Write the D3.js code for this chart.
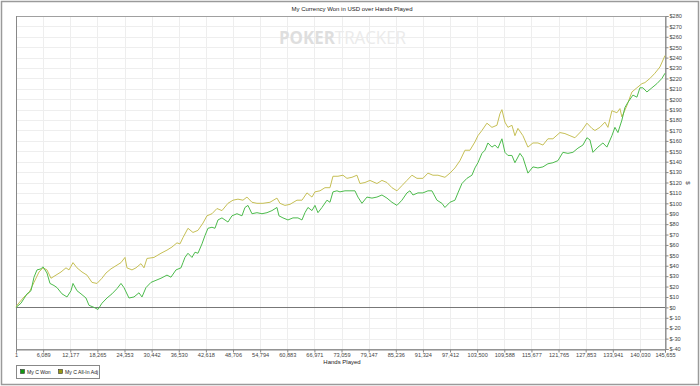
<!DOCTYPE html>
<html>
<head>
<meta charset="utf-8">
<script src="https://cdn.jsdelivr.net/npm/d3@7"></script>
<style>
  body { margin: 0; background: #fff; }
  svg { display: block; font-family: "Liberation Sans", Arial, sans-serif; }
</style>
</head>
<body>
<svg width="700" height="386"></svg>
<script>
// data (hands played, USD)
var wonHands = [1, 1122, 2468, 3366, 4039, 4712, 5610, 6059, 6956, 7630, 8527, 9200, 10322, 11444, 12342, 12791, 13688, 14586, 15708, 16381, 17503, 18401, 19298, 20420, 21542, 22664, 23562, 24235, 25357, 26479, 27601, 28274, 29172, 30294, 31416, 32538, 33884, 34782, 35904, 37026, 37475, 37924, 38597, 39494, 40168, 40841, 41738, 42412, 43085, 43982, 44656, 45329, 46226, 47573, 48470, 49592, 50714, 51388, 52061, 52958, 54080, 55202, 56324, 57446, 58568, 59017, 59915, 61037, 62159, 63281, 64178, 64852, 65525, 66422, 67096, 67769, 68666, 69788, 70462, 71135, 72032, 72706, 73828, 74950, 76072, 76745, 77642, 78764, 79886, 81008, 82130, 83252, 84374, 85496, 86618, 87740, 88414, 89087, 90209, 91331, 92453, 93350, 94472, 95594, 96268, 97390, 98512, 99185, 100082, 101204, 102326, 103000, 103673, 104570, 105244, 105917, 106814, 107488, 108161, 109058, 109732, 110405, 111302, 111976, 113098, 113771, 114893, 116015, 117137, 118259, 119381, 120503, 121625, 122747, 123869, 124991, 126113, 127235, 128132, 128806, 129479, 130601, 131723, 132620, 133742, 134416, 135089, 135986, 136660, 137333, 138455, 139352, 140026, 140699, 141596, 142718, 143840, 144962, 145655];
var wonUSD = [0, 4, 13, 16, 29, 36, 37, 39, 33, 23, 21, 19, 13, 10, 16, 23, 16, 13, 9, 2, 0, -2, 4, 9, 13, 18, 23, 19, 9, 10, 14, 10, 19, 24, 26, 28, 31, 29, 36, 38, 43, 48, 52, 48, 53, 52, 61, 69, 76, 77, 76, 84, 86, 82, 88, 90, 88, 96, 98, 90, 91, 90, 91, 93, 96, 88, 86, 84, 86, 86, 84, 91, 96, 93, 98, 91, 96, 103, 101, 111, 112, 111, 112, 112, 112, 106, 100, 106, 105, 106, 108, 105, 101, 98, 103, 110, 112, 108, 110, 110, 112, 112, 103, 100, 96, 101, 103, 110, 119, 124, 127, 134, 139, 148, 151, 158, 154, 156, 153, 162, 149, 146, 146, 139, 148, 144, 129, 135, 134, 135, 138, 139, 141, 149, 148, 149, 153, 156, 163, 161, 149, 154, 158, 154, 165, 173, 168, 180, 192, 197, 204, 202, 211, 211, 207, 211, 215, 220, 225];

var adjHands = [1, 224, 1795, 2917, 4039, 5161, 6059, 6956, 7854, 8976, 10098, 11220, 11893, 12791, 13688, 14810, 15932, 17054, 18176, 19298, 20196, 21318, 22440, 23562, 24460, 24908, 26030, 26928, 28050, 28723, 29396, 30967, 32538, 33884, 35006, 36128, 36802, 37475, 38597, 39719, 40841, 41963, 42860, 43982, 45104, 46226, 47573, 48695, 49817, 50939, 51836, 52958, 54080, 55427, 56998, 58568, 59242, 60364, 61486, 63056, 64178, 65300, 66422, 67096, 68218, 69340, 70462, 71135, 72257, 73379, 74276, 75398, 76520, 77194, 78316, 79438, 81008, 82130, 83252, 84374, 85496, 86618, 87740, 88862, 89984, 91331, 92453, 93575, 94697, 96268, 97390, 98512, 99634, 100756, 101878, 103000, 103673, 104570, 105692, 106814, 107937, 108610, 109058, 109732, 110405, 111302, 111976, 112649, 113771, 114893, 116015, 117137, 118259, 119381, 120503, 122074, 123196, 124318, 125440, 127011, 128132, 129254, 129928, 131050, 132172, 132845, 133742, 134864, 135538, 135986, 137108, 138230, 139352, 140474, 141147, 142269, 143391, 144513, 145655];
var adjUSD = [0, 2, 10, 14, 24, 34, 38, 36, 28, 31, 34, 38, 36, 43, 38, 34, 31, 24, 23, 28, 33, 37, 40, 43, 48, 38, 36, 38, 42, 38, 47, 48, 52, 55, 58, 62, 61, 67, 76, 72, 74, 81, 88, 90, 95, 93, 100, 103, 104, 103, 106, 101, 100, 100, 101, 105, 100, 98, 99, 103, 103, 110, 106, 111, 112, 115, 115, 126, 126, 127, 124, 125, 127, 119, 120, 122, 119, 122, 120, 115, 112, 117, 122, 127, 124, 124, 129, 127, 127, 125, 129, 134, 141, 151, 151, 159, 165, 170, 177, 173, 175, 186, 190, 178, 173, 175, 165, 172, 165, 154, 158, 158, 156, 162, 162, 168, 167, 165, 163, 170, 177, 172, 170, 173, 178, 173, 189, 187, 191, 183, 194, 207, 211, 215, 216, 220, 225, 231, 242];

var xTickValues = [1, 6089, 12177, 18265, 24353, 30442, 36530, 42618, 48706, 54794, 60883, 66971, 73059, 79147, 85236, 91324, 97412, 103500, 109588, 115677, 121765, 127853, 133941, 140030, 145655];
var yTickValues = d3.range(-40, 281, 10);

var seriesNames = ["My C Won", "My C All-In Adj"];

var svg = d3.select("svg");
var plotL = 16, plotR = 665, plotT = 16, plotB = 349;

var x = d3.scaleLinear().domain([1, 145655]).range([plotL, plotR]);
var y = d3.scaleLinear().domain([-40, 280]).range([plotB, plotT]);

// outer frame
svg.append("rect").attr("x", 1.5).attr("y", 1.5).attr("width", 697).attr("height", 383)
  .attr("fill", "#fff").attr("stroke", "#9a9a9a").attr("stroke-width", 1.5);

// grid
svg.append("g").selectAll("line").data(yTickValues).enter().append("line")
  .attr("x1", plotL).attr("x2", plotR)
  .attr("y1", d => Math.round(y(d)) + 0.5).attr("y2", d => Math.round(y(d)) + 0.5)
  .attr("stroke", "#eeeeee");
svg.append("g").selectAll("line").data(xTickValues).enter().append("line")
  .attr("y1", plotT).attr("y2", plotB)
  .attr("x1", d => Math.round(x(d)) + 0.5).attr("x2", d => Math.round(x(d)) + 0.5)
  .attr("stroke", "#eeeeee");

// watermark
var wm = svg.append("text").attr("x", 279).attr("y", 44)
  .attr("font-size", 18).attr("font-family", "'Open Sans', 'DejaVu Sans', sans-serif")
  .attr("textLength", 127).attr("lengthAdjust", "spacingAndGlyphs");
wm.append("tspan").attr("fill", "#dedede").attr("font-weight", "bold").text("POKER");
wm.append("tspan").attr("fill", "#ebebeb").text("TRACKER");

// plot border
svg.append("rect").attr("x", plotL + 0.5).attr("y", plotT + 0.5)
  .attr("width", plotR - plotL).attr("height", plotB - plotT)
  .attr("fill", "none").attr("stroke", "#a0a0a0");
svg.append("line").attr("x1", plotL + 0.5).attr("x2", plotL + 0.5)
  .attr("y1", plotT).attr("y2", plotB).attr("stroke", "#888");

// zero line
svg.append("line").attr("x1", plotL).attr("x2", plotR)
  .attr("y1", Math.round(y(0)) + 0.5).attr("y2", Math.round(y(0)) + 0.5)
  .attr("stroke", "#777");

// axes
var yAxis = d3.axisRight(y).tickValues(yTickValues).tickSize(3)
  .tickFormat(d => "$" + d);
var gy = svg.append("g").attr("transform", "translate(" + (plotR + 0.5) + ",0)").call(yAxis);
var xAxis = d3.axisBottom(x).tickValues(xTickValues).tickSize(3)
  .tickFormat(d3.format(","));
var gx = svg.append("g").attr("transform", "translate(0," + (plotB + 0.5) + ")").call(xAxis);
[gx, gy].forEach(g => {
  g.select(".domain").attr("stroke", "#888");
  g.selectAll(".tick line").attr("stroke", "#888");
  g.selectAll(".tick text").attr("fill", "#444").attr("font-size", 5.6)
    .attr("font-family", "'Liberation Sans', Arial, sans-serif");
});
gy.selectAll(".tick text").attr("x", 4);
gx.selectAll(".tick text").attr("y", 3.5);

// lines
var line = d3.line().x(d => x(d[0])).y(d => y(d[1]));
svg.append("path").datum(d3.zip(adjHands, adjUSD)).attr("d", line)
  .attr("fill", "none").attr("stroke", "#c6bf55").attr("stroke-width", 1);
svg.append("path").datum(d3.zip(wonHands, wonUSD)).attr("d", line)
  .attr("fill", "none").attr("stroke", "#4cbb4c").attr("stroke-width", 1);

// titles
svg.append("text").attr("x", 352).attr("y", 11).attr("text-anchor", "middle")
  .attr("font-size", 6).attr("fill", "#222").text("My Currency Won in USD over Hands Played");
svg.append("text").attr("x", 342).attr("y", 363.5).attr("text-anchor", "middle")
  .attr("font-size", 6).attr("fill", "#222").text("Hands Played");
svg.append("text").attr("transform", "translate(686,183) rotate(90)")
  .attr("text-anchor", "middle").attr("font-size", 6).attr("fill", "#444").text("$");

// legend
svg.append("rect").attr("x", 16.5).attr("y", 365.5).attr("width", 83).attr("height", 13)
  .attr("fill", "#fff").attr("stroke", "#888");
var legendColors = ["#119911", "#999911"];
var lx = [20, 58];
seriesNames.forEach((name, i) => {
  svg.append("rect").attr("x", lx[i] + 0.5).attr("y", 369.5).attr("width", 4).attr("height", 4)
    .attr("fill", legendColors[i]).attr("stroke", "#333").attr("stroke-width", 0.6);
  svg.append("text").attr("x", lx[i] + 7).attr("y", 374).attr("font-size", 5.1)
    .attr("fill", "#222").text(name);
});
</script>
</body>
</html>
